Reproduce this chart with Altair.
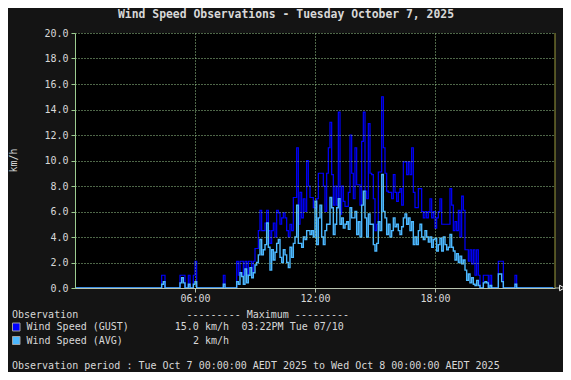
import altair as alt
import pandas as pd

# 5-minute observations, 00:00 .. 23:55 (km/h)
gust = [
    0, 0, 0, 0, 0, 0, 0, 0, 0, 0, 0, 0,
    0, 0, 0, 0, 0, 0, 0, 0, 0, 0, 0, 0,
    0, 0, 0, 0, 0, 0, 0, 0, 0, 0, 0, 0,
    0, 0, 0, 0, 0, 0, 0, 0, 0, 0, 0, 0,
    0, 0, 0, 0, 1.0, 1.0, 0, 0, 0, 0, 0, 0,
    0, 0, 0, 1.0, 1.0, 1.0, 0, 0, 1.0, 0, 0, 1.0,
    2.1, 0, 0, 0, 0, 0, 0, 0, 0, 0, 0, 0,
    0, 0, 0, 0, 0, 1.0, 0, 0, 0, 0, 0, 0,
    0, 2.1, 1.0, 2.1, 2.1, 1.0, 2.1, 1.0, 2.1, 2.1, 1.0, 2.1,
    3.1, 3.1, 4.5, 6.1, 4.5, 4.5, 5.1, 6.1, 4.5, 3.5, 4.5, 5.1,
    4.0, 6.1, 5.9, 5.0, 5.5, 5.9, 5.5, 4.5, 4.0, 5.0, 4.5, 7.1,
    7.1, 11.0, 5.0, 7.5, 5.5, 7.0, 6.0, 10.0, 8.0, 7.1, 7.1, 6.3,
    6.3, 7.0, 9.0, 9.0, 9.0, 8.0, 6.0, 9.0, 11.0, 13.0, 8.9, 6.5,
    8.0, 6.5, 13.8, 5.8, 8.0, 6.8, 6.4, 6.4, 7.5, 12.0, 9.0, 7.0,
    11.0, 8.1, 8.1, 6.5, 11.5, 13.8, 7.6, 7.0, 12.9, 9.0, 8.9, 7.0,
    4.5, 5.0, 9.1, 9.1, 15.0, 11.0, 9.0, 7.6, 7.5, 7.5, 7.0, 8.9,
    7.5, 6.8, 7.5, 7.8, 6.5, 9.9, 9.9, 8.9, 9.9, 8.9, 11.0, 7.5,
    6.3, 6.3, 7.8, 7.8, 6.0, 5.5, 6.0, 5.5, 6.0, 7.0, 5.5, 6.0,
    4.7, 5.5, 6.0, 7.0, 5.0, 5.0, 5.0, 5.0, 5.0, 7.8, 6.5, 4.5,
    5.2, 4.5, 6.1, 4.0, 7.2, 6.1, 3.0, 3.0, 2.1, 3.0, 1.9, 3.0,
    1.0, 3.0, 1.0, 0, 0, 1.0, 1.0, 1.0, 0, 1.0, 0, 0,
    0, 0, 2.1, 2.1, 2.1, 0, 0, 0, 0, 0, 0, 0,
    1.0, 0, 0, 0, 0, 0, 0, 0, 0, 0, 0, 0,
    0, 0, 0, 0, 0, 0, 0, 0, 0, 0, 0, 0,
]

avg = [
    0, 0, 0, 0, 0, 0, 0, 0, 0, 0, 0, 0,
    0, 0, 0, 0, 0, 0, 0, 0, 0, 0, 0, 0,
    0, 0, 0, 0, 0, 0, 0, 0, 0, 0, 0, 0,
    0, 0, 0, 0, 0, 0, 0, 0, 0, 0, 0, 0,
    0, 0, 0, 0, 0.3, 0.5, 0, 0, 0, 0, 0, 0,
    0, 0, 0, 0.4, 0.8, 0.4, 0, 0, 0.3, 0, 0, 0.3,
    0.5, 0, 0, 0, 0, 0, 0, 0, 0, 0, 0, 0,
    0, 0, 0, 0, 0, 0.3, 0, 0, 0, 0, 0, 0,
    0, 0.5, 0.3, 1.2, 0.9, 0.3, 1.5, 0.4, 1.0, 1.6, 0.8, 1.2,
    1.8, 2.0, 2.6, 3.8, 2.6, 3.0, 3.4, 5.1, 3.2, 1.4, 3.0, 2.2,
    2.8, 3.5, 3.8, 2.4, 2.0, 3.0, 2.6, 2.0, 1.6, 3.2, 2.4, 3.5,
    4.0, 6.5, 3.5, 3.5, 3.2, 4.0, 3.8, 4.5, 4.5, 4.2, 4.5, 4.0,
    6.8, 3.4, 5.5, 6.5, 4.0, 3.4, 4.5, 5.0, 5.0, 7.1, 6.3, 4.2,
    5.0, 6.3, 7.0, 5.0, 5.5, 4.7, 5.0, 5.2, 4.6, 6.3, 5.5, 5.5,
    6.0, 4.2, 5.2, 4.0, 6.5, 7.6, 5.5, 4.0, 5.8, 5.0, 5.0, 3.4,
    2.9, 3.5, 5.2, 4.5, 8.9, 6.0, 5.5, 4.2, 5.0, 4.0, 4.5, 5.5,
    4.8, 5.0, 4.5, 4.2, 4.8, 5.5, 5.8, 5.0, 5.5, 4.5, 5.2, 3.4,
    4.0, 3.4, 4.5, 5.0, 4.0, 3.8, 4.5, 4.0, 3.6, 4.0, 3.2, 3.8,
    3.9, 2.9, 3.4, 3.9, 2.9, 4.0, 3.4, 3.0, 3.2, 4.2, 3.2, 2.9,
    2.2, 2.7, 2.0, 2.5, 1.9, 2.2, 1.4, 0.6, 1.1, 0.4, 0.8, 0.3,
    0.2, 0.6, 0.2, 0, 0, 0.4, 0.5, 0.4, 0, 0.2, 0, 0,
    0, 0, 1.1, 1.1, 0.5, 0, 0, 0, 0, 0, 0, 0,
    0.3, 0, 0, 0, 0, 0, 0, 0, 0, 0, 0, 0,
    0, 0, 0, 0, 0, 0, 0, 0, 0, 0, 0, 0,
]

minutes = list(range(0, 1440, 5))
hour_ticks = [6, 12, 18]
y_ticks = [0, 2, 4, 6, 8, 10, 12, 14, 16, 18, 20]

title_text = "Wind Speed Observations - Tuesday October 7, 2025"
series_names = ["Wind Speed (GUST)", "Wind Speed (AVG)"]
series_max = ["15.0 km/h", "2 km/h"]
max_when = "03:22PM Tue 07/10"
period_text = "Observation period : Tue Oct 7 00:00:00 AEDT 2025 to Wed Oct 8 00:00:00 AEDT 2025"

df = pd.DataFrame({"h": [m / 60 for m in minutes], "gust": gust, "avg": avg})
one = pd.DataFrame({"k": [0]})

FONT = "DejaVu Sans Mono"
TXT = "#d8d8d8"
GRID = "#9ccc90"
GUST_C = "#0000ff"
AVG_C = "#4cb8ff"
W, H = 480, 255

x_scale = alt.Scale(domain=[0, 24], nice=False, zero=False)
y_scale = alt.Scale(domain=[0, 20], nice=False)

x_axis = alt.Axis(
    values=hour_ticks,
    labelExpr="(datum.value < 10 ? '0' : '') + datum.value + ':00'",
    grid=True, gridColor=GRID, gridDash=[1, 2], gridWidth=1,
    domainColor="#b8c4b0", tickColor="#b8c4b0", tickSize=4,
    labelPadding=1, labelFont=FONT, labelFontSize=10, labelColor=TXT,
    title=None, zindex=1,
)
y_axis = alt.Axis(
    values=y_ticks, format=".1f",
    grid=True, gridColor=GRID, gridDash=[1, 2], gridWidth=1,
    domainColor=GRID, tickColor=GRID, tickSize=4,
    labelPadding=3, labelFont=FONT, labelFontSize=10, labelColor=TXT,
    title="km/h", titleFont=FONT, titleFontSize=10, titleFontWeight="normal",
    titleColor=TXT, titleAngle=-90, titleX=-62, titleY=127,
    titleAlign="center", titleBaseline="middle", zindex=1,
)

gust_line = alt.Chart(df).mark_line(
    interpolate="step-after", color=GUST_C, strokeWidth=1.2
).encode(
    x=alt.X("h:Q", scale=x_scale, axis=x_axis),
    y=alt.Y("gust:Q", scale=y_scale, axis=y_axis),
)
avg_line = alt.Chart(df).mark_line(
    interpolate="step-after", color=AVG_C, strokeWidth=1.4
).encode(
    x=alt.X("h:Q", scale=x_scale, axis=x_axis),
    y=alt.Y("avg:Q", scale=y_scale, axis=y_axis),
)

right_edge = alt.Chart(one).mark_rule(color="#9a9a3c", strokeWidth=1).encode(
    x=alt.value(W), y=alt.value(0), y2=alt.value(H)
)
axis_ext = alt.Chart(one).mark_rule(color="#b8c4b0", strokeWidth=1).encode(
    x=alt.value(W), x2=alt.value(W + 5), y=alt.value(H)
)
arrow = alt.Chart(one).mark_point(
    shape="triangle-right", filled=False, color="#ffffff", size=30, strokeWidth=1, opacity=1
).encode(x=alt.value(W + 7), y=alt.value(H))


def label(text, x, y, align="left", size=10, weight="normal"):
    return alt.Chart(one).mark_text(
        align=align, baseline="middle", font=FONT, fontSize=size,
        fontWeight=weight, color=TXT
    ).encode(x=alt.value(x), y=alt.value(y), text=alt.value(text))


def swatch(color, y):
    return alt.Chart(one).mark_rect(
        fill=color, stroke="#a0a0a0", strokeWidth=1
    ).encode(x=alt.value(-62.5), x2=alt.value(-55), y=alt.value(y - 4), y2=alt.value(y + 4))


layers = [
    gust_line, avg_line, right_edge, axis_ext, arrow,
    label(title_text, 211, -18, align="center", size=11.4, weight="bold"),
    label("Observation", -63, 281.5),
    label("--------- Maximum ---------", 111.5, 281.5),
    swatch(GUST_C, 294), swatch(AVG_C, 307.5),
    label(series_names[0], -48.5, 294),
    label(series_names[1], -48.5, 307.5),
    label(series_max[0], 154, 294, align="right"),
    label(series_max[1], 154, 307.5, align="right"),
    label(max_when, 166.5, 294),
    label(period_text, -63, 333),
]

chart = alt.layer(*layers).properties(
    width=W, height=H,
    padding={"left": 67, "top": 25, "right": 8, "bottom": 84},
    autosize=alt.AutoSizeParams(type="none"),
    background="#141414",
).configure_view(fill="#000000", strokeWidth=0)

chart.save("out.html", embed_options={"renderer": "svg", "actions": False})
